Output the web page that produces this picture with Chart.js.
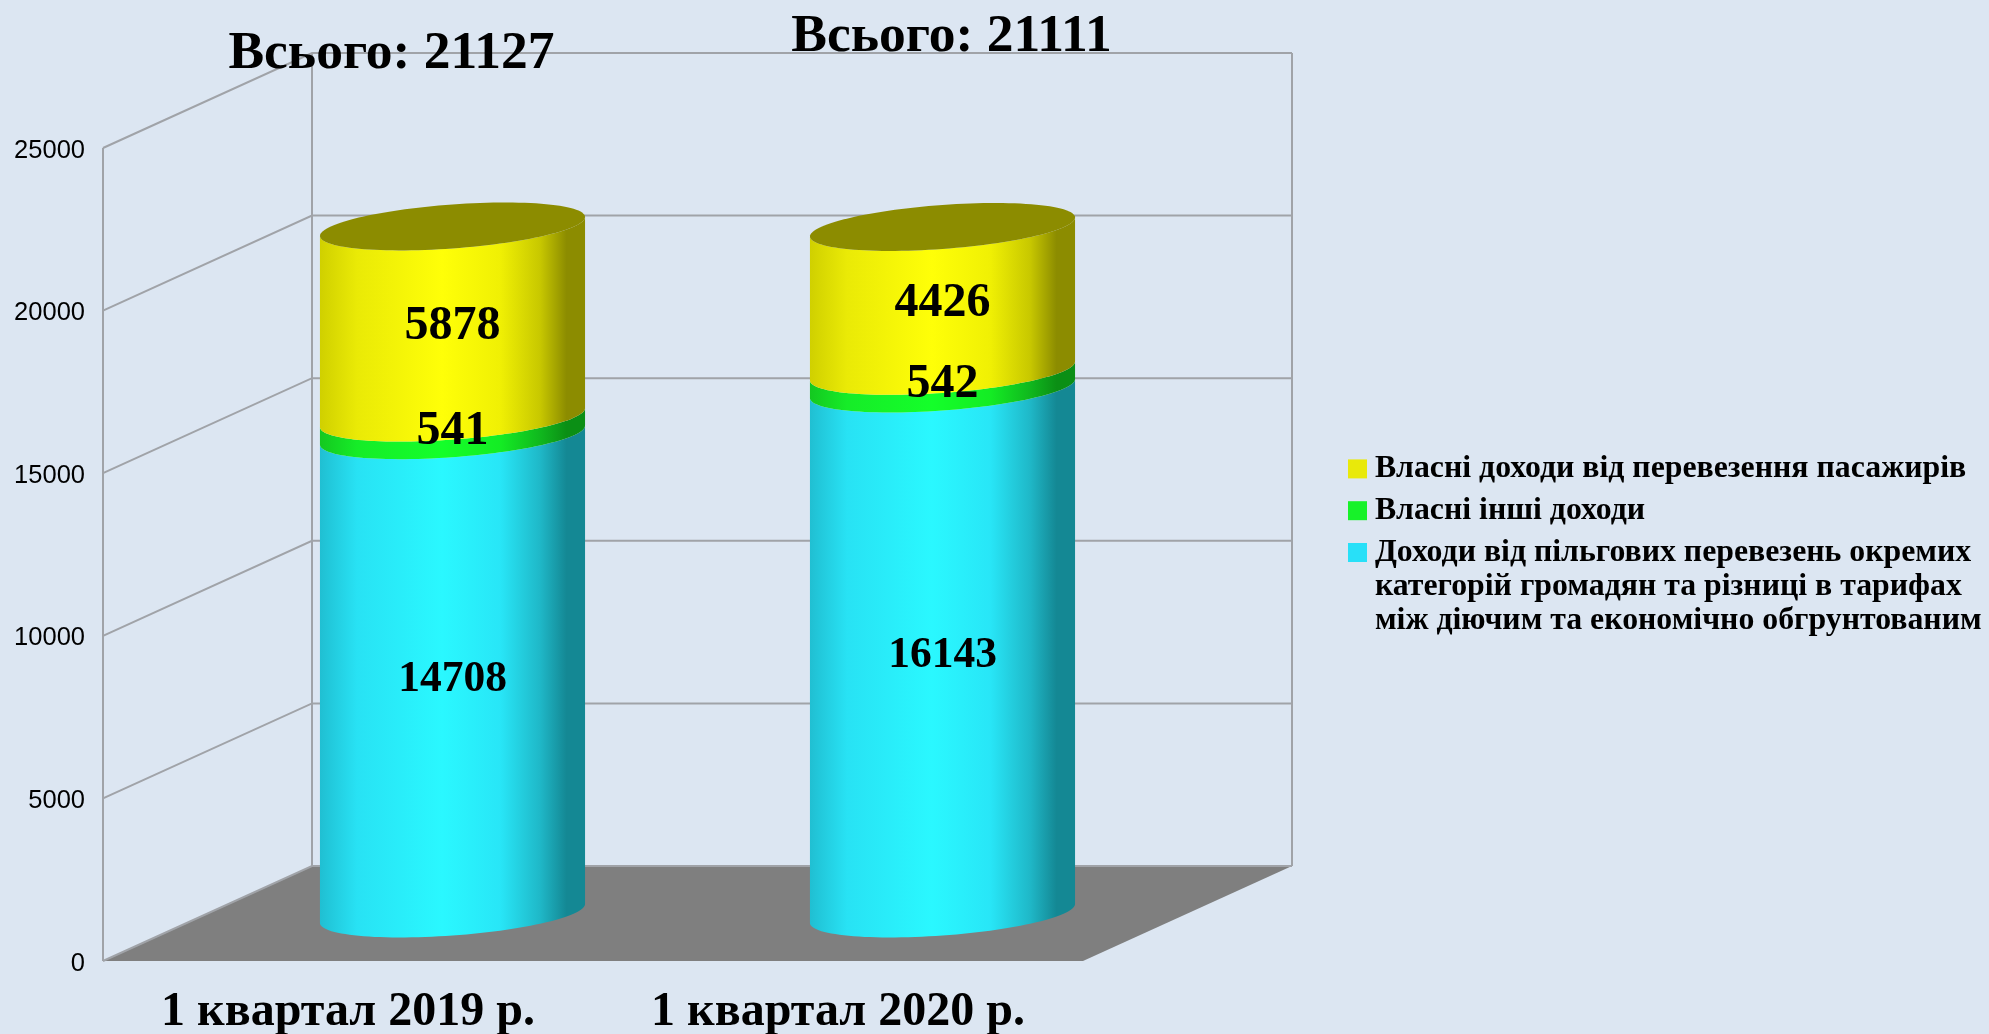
<!DOCTYPE html>
<html>
<head>
<meta charset="utf-8">
<title>Доходи</title>
<script src="https://cdn.jsdelivr.net/npm/chart.js@4"></script>
<style>
    html, body { margin: 0; padding: 0; background: #DCE6F2; }
    canvas { display: block; }
</style>
</head>
<body>
<canvas id="myChart" width="1989" height="1034"></canvas>
<script>
// Chart values
const categories = ['1 квартал 2019 р.', '1 квартал 2020 р.'];
const subsidyIncome = [14708, 16143];
const otherIncome = [541, 542];
const passengerIncome = [5878, 4426];
const totals = [21127, 21111];
const tickValues = [0, 5000, 10000, 15000, 20000, 25000];
const subsidyLabel = [
    'Доходи від пільгових перевезень окремих',
    'категорій громадян та різниці в тарифах',
    'між діючим та економічно обгрунтованим'
];
const otherLabel = 'Власні інші доходи';
const passengerLabel = 'Власні доходи від перевезення пасажирів';

// Look of the fake 3D box
const depthX = 209;
const depthY = -95;
const gridColor = '#A0A3A8';
const floorColor = '#7F7F7F';
const serif = '"Liberation Serif", serif';

// left to right colours around each cylinder
const shades = {
    cyan: ['#20BFD2', '#28E2F4', '#2AF8FF', '#28E6F7', '#1FB8C8', '#148894', '#148894'],
    green: ['#14C820', '#16EC28', '#14FF2A', '#14EC24', '#10B81E', '#0B8F15', '#0B8F15'],
    yellow: ['#D0D000', '#EAEA06', '#FFFF08', '#F0F004', '#C8C800', '#8C8C00', '#8C8C00']
};
const shadeStops = [0, 0.14, 0.46, 0.68, 0.83, 0.93, 1];

function drawWalls(chart) {
    const ctx = chart.ctx;
    const y = chart.scales.y;
    const left = chart.chartArea.left;
    const right = chart.chartArea.right;
    const zero = y.getPixelForValue(0);
    const top = y.getPixelForValue(tickValues[tickValues.length - 1]);

    ctx.save();
    ctx.fillStyle = floorColor;
    ctx.beginPath();
    ctx.moveTo(left, zero);
    ctx.lineTo(left + depthX, zero + depthY);
    ctx.lineTo(right + depthX, zero + depthY);
    ctx.lineTo(right, zero);
    ctx.closePath();
    ctx.fill();

    ctx.strokeStyle = gridColor;
    ctx.lineWidth = 2;
    ctx.beginPath();
    tickValues.forEach(v => {
        const py = y.getPixelForValue(v);
        ctx.moveTo(left, py);
        ctx.lineTo(left + depthX, py + depthY);
        ctx.lineTo(right + depthX, py + depthY);
    });
    ctx.moveTo(left, top);
    ctx.lineTo(left, zero);
    ctx.moveTo(left + depthX, top + depthY);
    ctx.lineTo(left + depthX, zero + depthY);
    ctx.moveTo(right + depthX, top + depthY);
    ctx.lineTo(right + depthX, zero + depthY);
    ctx.stroke();
    ctx.restore();
}

// one point on the slanted ellipse of the cylinder
function ringPoint(cx, cy, a, t) {
    return [cx + a * Math.cos(t), cy - 9.5 * Math.cos(t) + 22 * Math.sin(t)];
}

function drawCylinderPart(ctx, el, colors, isTop) {
    const a = el.width / 2;
    const cx = el.x + depthX / 2;
    const yTop = el.y + depthY / 2;
    const yBottom = el.base + depthY / 2;
    const steps = 60;

    const grad = ctx.createLinearGradient(cx - a, 0, cx + a, 0);
    colors.forEach((c, i) => grad.addColorStop(shadeStops[i], c));
    ctx.fillStyle = grad;
    ctx.beginPath();
    for (let i = 0; i <= steps; i++) {
        const p = ringPoint(cx, yBottom, a, Math.PI * i / steps);
        ctx.lineTo(p[0], p[1]);
    }
    for (let i = steps; i >= 0; i--) {
        const p = ringPoint(cx, yTop, a, Math.PI * i / steps);
        ctx.lineTo(p[0], p[1]);
    }
    ctx.closePath();
    ctx.fill();

    if (isTop) {
        ctx.fillStyle = colors[colors.length - 1];
        ctx.beginPath();
        for (let i = 0; i <= steps * 2; i++) {
            const p = ringPoint(cx, yTop, a, Math.PI * i / steps);
            ctx.lineTo(p[0], p[1]);
        }
        ctx.closePath();
        ctx.fill();
    }
}

const cylinderPlugin = {
    id: 'cylinders',
    afterLayout(chart) {
        // legend sits far from the box, the wall takes the room between them
        chart.legend.left = 1346;
        chart.legend.right = 1989;
        chart.legend.top = 443;
    },
    beforeDraw(chart) {
        // the source prints the value labels a bit under their grid level
        chart.scales.y.getLabelItems().forEach(item => { item.textOffset += 2.5; });
    },
    beforeDatasetsDraw(chart) {
        drawWalls(chart);
    },
    beforeDatasetDraw() {
        return false;
    },
    afterDatasetsDraw(chart) {
        const ctx = chart.ctx;
        const count = chart.data.datasets.length;
        ctx.save();
        chart.data.datasets.forEach((ds, i) => {
            chart.getDatasetMeta(i).data.forEach(el => {
                drawCylinderPart(ctx, el, ds.shades, i === count - 1);
            });
        });

        ctx.fillStyle = '#000';
        ctx.textAlign = 'center';
        ctx.textBaseline = 'middle';
        chart.data.datasets.forEach((ds, i) => {
            ctx.font = 'bold ' + ds.labelSize + 'px ' + serif;
            chart.getDatasetMeta(i).data.forEach((el, j) => {
                const mid = (el.y + el.base) / 2 + depthY / 2;
                ctx.fillText(String(ds.data[j]), el.x + depthX / 2, mid + 5);
            });
        });

        // totals are placed by hand in the source picture
        const totalPos = [[391.5, 68], [951.5, 51]];
        ctx.textBaseline = 'alphabetic';
        ctx.font = 'bold 53.5px ' + serif;
        totals.forEach((t, i) => {
            ctx.fillText('Всього: ' + t, totalPos[i][0], totalPos[i][1]);
        });
        ctx.restore();
    }
};

const ctx = document.getElementById('myChart').getContext('2d');
const myChart = new Chart(ctx, {
    type: 'bar',
    data: {
        labels: categories,
        datasets: [
            { label: subsidyLabel, data: subsidyIncome, backgroundColor: '#28E0F8', shades: shades.cyan, labelSize: 43.5 },
            { label: otherLabel, data: otherIncome, backgroundColor: '#17F229', shades: shades.green, labelSize: 48 },
            { label: passengerLabel, data: passengerIncome, backgroundColor: '#E9E90A', shades: shades.yellow, labelSize: 48 }
        ]
    },
    plugins: [cylinderPlugin],
    options: {
        responsive: false,
        animation: false,
        categoryPercentage: 1,
        barPercentage: 0.541,
        layout: {
            padding: { top: 148, right: 545, bottom: 0, left: 0 }
        },
        scales: {
            x: {
                stacked: true,
                grid: { display: false },
                border: { display: false },
                afterFit(scale) { scale.height = 73; },
                ticks: {
                    color: '#000',
                    padding: 15,
                    autoSkip: false,
                    maxRotation: 0,
                    font: { family: serif, size: 48, weight: 'bold' }
                }
            },
            y: {
                stacked: true,
                min: 0,
                max: tickValues[tickValues.length - 1],
                grid: { display: false, drawTicks: false },
                border: { display: false },
                afterFit(scale) { scale.width = 103; },
                afterBuildTicks(scale) { scale.ticks = tickValues.map(v => ({ value: v })); },
                ticks: {
                    color: '#000',
                    padding: 18,
                    callback: v => String(v),
                    font: { family: '"Liberation Sans", sans-serif', size: 25.5 }
                }
            }
        },
        plugins: {
            title: { display: false },
            tooltip: { enabled: false },
            legend: {
                position: 'right',
                align: 'start',
                reverse: true,
                labels: {
                    boxWidth: 3,
                    boxHeight: 3,
                    padding: 10,
                    color: '#000',
                    font: { family: serif, size: 31.8, weight: 'bold', lineHeight: 1.069 },
                    generateLabels(chart) {
                        return chart.data.datasets.map((ds, i) => ({
                            text: ds.label,
                            fillStyle: ds.backgroundColor,
                            strokeStyle: ds.backgroundColor,
                            lineWidth: 16,
                            datasetIndex: i
                        }));
                    }
                }
            }
        }
    }
});
</script>
</body>
</html>
